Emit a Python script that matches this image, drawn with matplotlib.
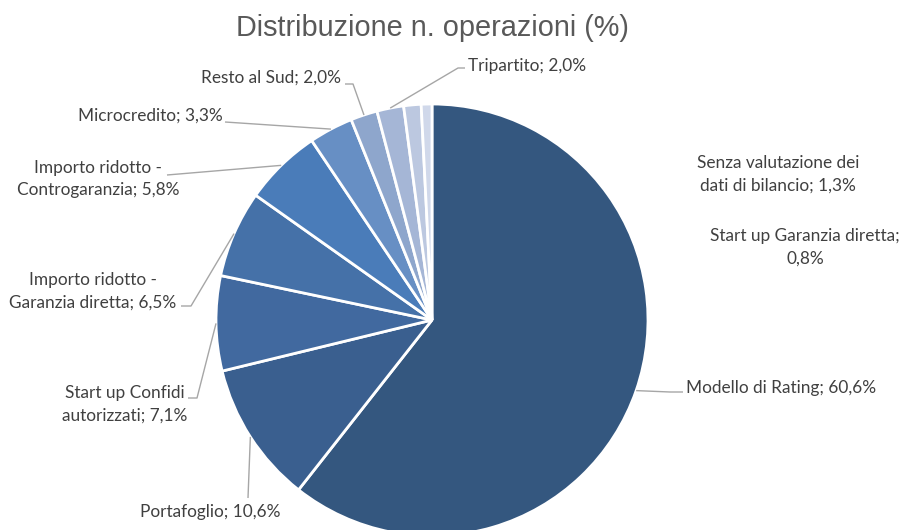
import matplotlib.pyplot as plt
import numpy as np

plt.rcParams['font.family'] = ['Lato', 'DejaVu Sans']

categorie = ['Modello di Rating', 'Portafoglio', 'Start up Confidi\nautorizzati',
             'Importo ridotto -\nGaranzia diretta', 'Importo ridotto -\nControgaranzia',
             'Microcredito', 'Resto al Sud', 'Tripartito',
             'Senza valutazione dei\ndati di bilancio', 'Start up Garanzia diretta;\n']
quote = [60.6, 10.6, 7.1, 6.5, 5.8, 3.3, 2.0, 2.0, 1.3, 0.8]
colori = ['#34577f', '#3a5f8f', '#41699f', '#4571a8', '#4a7cb9',
          '#678fc4', '#8ea6cc', '#a5b6d6', '#bcc8e0', '#d0d8ea']

W, H = 902, 530
cx, cy, R = 432, 320, 216

fig = plt.figure(figsize=(W / 100, H / 100), dpi=100)
ax = fig.add_axes([0, 0, 1, 1])


def Y(y): return H - y


wedges, _ = ax.pie(quote, colors=colori, startangle=90, counterclock=False,
                   center=(cx, Y(cy)), radius=R, frame=True,
                   wedgeprops=dict(edgecolor='white', linewidth=2))
ax.set_xlim(0, W)
ax.set_ylim(0, H)
ax.set_aspect('equal')
ax.axis('off')

# posizione testo (px), allineamento, gomito della linea guida
etichette = [
    ((686, 388), 'left', [(683, 392), (670, 392)]),
    ((210, 512), 'center', [(248, 498)]),
    ((125, 404), 'center', [(188, 398), (197, 398)]),
    ((93, 291), 'center', [(181, 306), (191, 306)]),
    ((98, 179), 'center', [(167, 175)]),
    ((150, 116), 'center', [(225, 122)]),
    ((271, 78), 'center', [(345, 84), (353, 84)]),
    ((527, 66), 'center', [(465, 68), (458, 68)]),
    ((778, 174), 'center', None),
    ((805, 247), 'center', None),
]

for w, nome, q, (pos, ha, gomito) in zip(wedges, categorie, quote, etichette):
    sep = '' if nome.endswith('\n') else '; '
    testo = f'{nome}{sep}{q:.1f}%'.replace('.', ',')
    ax.text(pos[0], Y(pos[1]), testo, ha=ha, va='center', fontsize=12.4,
            color='#404040', linespacing=1.5)
    if gomito:
        ang = np.deg2rad((w.theta1 + w.theta2) / 2)
        px = cx + R * np.cos(ang)
        py = Y(cy) + R * np.sin(ang)
        xs = [p[0] for p in gomito] + [px]
        ys = [Y(p[1]) for p in gomito] + [py]
        ax.plot(xs, ys, color='#a6a6a6', linewidth=1, solid_capstyle='butt')

ax.text(W / 2 - 19, Y(28), 'Distribuzione n. operazioni (%)', ha='center',
        va='center', fontsize=20.8, color='#595959', family='Liberation Sans')

fig.savefig('out.png', dpi=100)
